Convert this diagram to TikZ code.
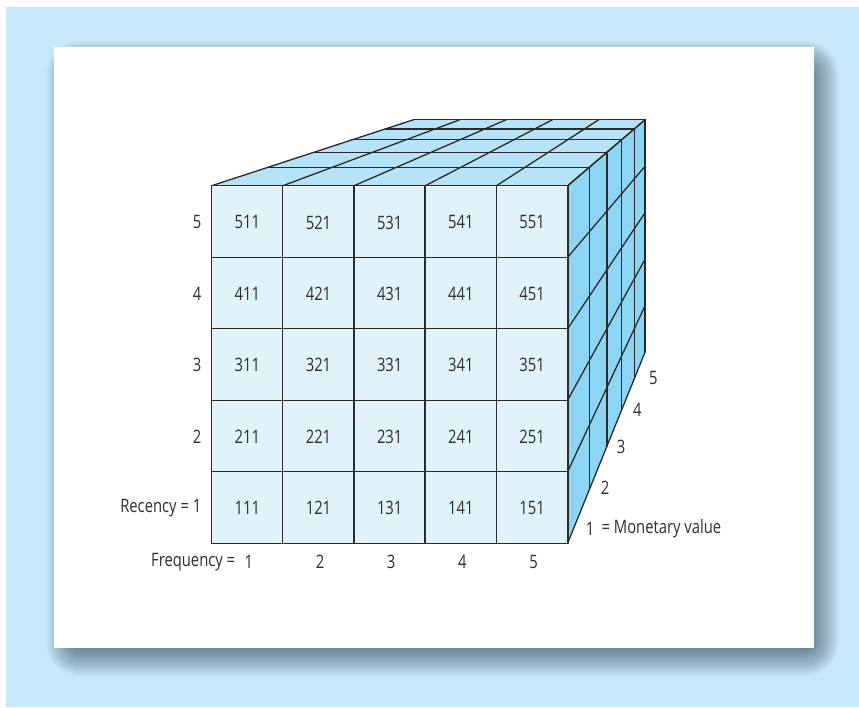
\documentclass[tikz,border=0pt]{standalone}
\usepackage{fontspec}
\setmainfont{Open Sans}[FakeStretch=0.8]
\usetikzlibrary{calc}
\definecolor{bgblue}{HTML}{C6E8F8}
\definecolor{shadowc}{HTML}{102030}
\definecolor{frontc}{HTML}{E0F3FB}
\definecolor{topc}{HTML}{B6E3F7}
\definecolor{sidec}{HTML}{8DD5F4}
\definecolor{linec}{HTML}{2A2A2A}
\definecolor{textc}{HTML}{2E2E2E}
\tikzset{
  gridline/.style={draw=linec, line width=1.3pt, line join=round, line cap=round},
  cell/.style={fill=frontc, minimum width=71.2pt, minimum height=71.46pt, inner sep=0pt, text=textc, font=\fontsize{18.5}{21}\selectfont},
  lbl/.style={text=textc, font=\fontsize{18.5}{21}\selectfont, inner sep=0pt}
}
\begin{document}
\begin{tikzpicture}[x=1pt,y=-1pt]
\useasboundingbox (0,0) rectangle (859,707);
% background
\fill[bgblue] (6,7) rectangle (859,707);
% shadow (layered blur)
\foreach \r in {-16,...,16}{
  \fill[shadowc, opacity=0.021, rounded corners={(\r+18)*1pt}] (62-\r,57-\r) rectangle (823+\r,660+\r);
}
% white panel
\fill[white] (54,47) rectangle (814,648);
% perspective coordinates
\foreach \j in {0,...,5}{
  \pgfmathsetmacro\s{1/(1+0.538*\j/5)}
  \foreach \i in {0,...,5}{
    \pgfmathsetmacro\X{789+\s*(211.7+71.2*\i-789)}
    \pgfmathsetmacro\Y{-3+\s*(185.7+3)}
    \coordinate (T-\i-\j) at (\X,\Y);
  }
  \foreach \k in {0,...,5}{
    \pgfmathsetmacro\X{789+\s*(567.7-789)}
    \pgfmathsetmacro\Y{-3+\s*(185.7+71.46*\k+3)}
    \coordinate (R-\k-\j) at (\X,\Y);
  }
}
% faces
\fill[topc] (T-0-0) -- (T-5-0) -- (T-5-5) -- (T-0-5) -- cycle;
\fill[sidec] (R-0-0) -- (R-5-0) -- (R-5-5) -- (R-0-5) -- cycle;
% top grid
\foreach \i in {0,...,5}{ \draw[gridline] (T-\i-0) -- (T-\i-5); }
\foreach \j in {1,...,5}{ \draw[gridline] (T-0-\j) -- (T-5-\j); }
% right grid
\foreach \k in {0,...,5}{ \draw[gridline] (R-\k-0) -- (R-\k-5); }
\foreach \j in {1,...,5}{ \draw[gridline] (R-0-\j) -- (R-5-\j); }
% front cells
\foreach \r in {1,...,5}{
  \foreach \f in {1,...,5}{
    \node[cell] (c-\r-\f) at ({211.7+71.2*(\f-0.5)},{543-71.46*(\r-0.5)+1}) {\r\f1};
  }
}
% front grid
\foreach \f in {1,...,5}{ \draw[gridline] ($(c-1-\f.south west)+(0,-1)$) -- ($(c-5-\f.north west)+(0,-1)$); }
\draw[gridline] ($(c-1-5.south east)+(0,-1)$) -- ($(c-5-5.north east)+(0,-1)$);
\foreach \r in {1,...,5}{ \draw[gridline] ($(c-\r-1.south west)+(0,-1)$) -- ($(c-\r-5.south east)+(0,-1)$); }
\draw[gridline] ($(c-5-1.north west)+(0,-1)$) -- ($(c-5-5.north east)+(0,-1)$);
% row labels
\foreach \r in {2,...,5}{
  \node[lbl, anchor=east] (rl-\r) at ($(c-\r-1.west)+(-10,0)$) {\r};
}
\node[lbl, anchor=east] (rl-1) at ($(c-1-1.west)+(-10,0)$) {Recency = 1};
% column labels
\foreach \f in {1,...,5}{
  \node[lbl] (fl-\f) at ($(c-1-\f.south)+(1.5,17.5)$) {\f};
}
\node[lbl, anchor=east] (flab) at ($(fl-1.west)+(-9,0)$) {Frequency =};
% depth labels
\node[lbl] (d-1) at (590,529) {1};
\node[lbl, anchor=west] (dlab) at ($(d-1.east)+(7,0)$) {= Monetary value};
\node[lbl] (d-2) at (605,488) {2};
\node[lbl] (d-3) at (621,446.5) {3};
\node[lbl] (d-4) at (637.3,410) {4};
\node[lbl] (d-5) at (653.3,378) {5};
\end{tikzpicture}
\end{document}
